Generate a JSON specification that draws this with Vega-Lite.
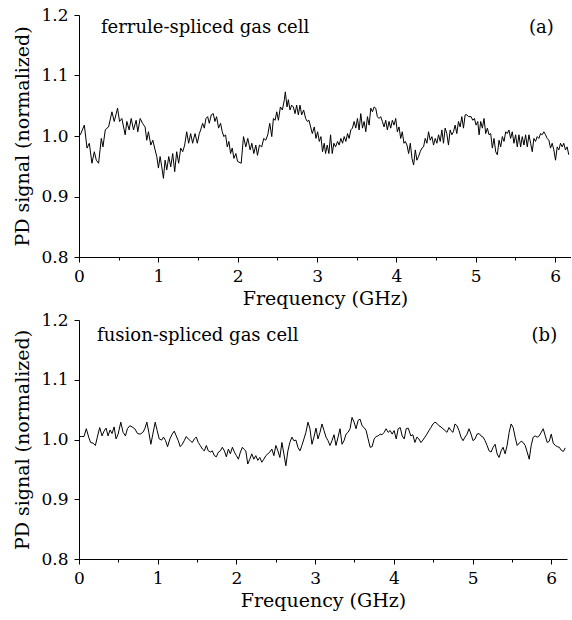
{
"$schema": "https://vega.github.io/schema/vega-lite/v6.json",
"background": "white",
"padding": {"left": 13, "top": 6, "right": 0, "bottom": 2},
"spacing": 3,
"config": {
  "view": {"stroke": null},
  "font": "DejaVu Serif",
  "axis": {"domainColor": "black", "domainWidth": 1, "tickColor": "black", "tickWidth": 1, "labelColor": "black", "titleColor": "black", "labelFont": "DejaVu Serif", "titleFont": "DejaVu Serif", "labelFontSize": 17, "titleFontSize": 19, "titleFontWeight": "normal", "grid": false, "labelOverlap": false, "labelBound": false, "labelFlush": false}
},
"datasets": {
"a": [
{"f":0,"s":1.0},{"f":0.017,"s":1.002},{"f":0.067,"s":1.018},{"f":0.101,"s":0.980},{"f":0.130,"s":0.988},{"f":0.163,"s":0.955},{"f":0.193,"s":0.974},{"f":0.218,"s":0.960},{"f":0.247,"s":0.955},{"f":0.281,"s":0.996},{"f":0.302,"s":0.982},{"f":0.331,"s":1.010},{"f":0.352,"s":1.013},{"f":0.373,"s":1.015},{"f":0.415,"s":1.040},{"f":0.444,"s":1.024},{"f":0.486,"s":1.046},{"f":0.511,"s":1.024},{"f":0.540,"s":1.029},{"f":0.582,"s":1.002},{"f":0.603,"s":1.024},{"f":0.632,"s":1.010},{"f":0.658,"s":1.029},{"f":0.687,"s":1.010},{"f":0.720,"s":1.026},{"f":0.741,"s":1.007},{"f":0.771,"s":1.029},{"f":0.800,"s":1.021},{"f":0.833,"s":1.015},{"f":0.854,"s":0.993},{"f":0.875,"s":1.007},{"f":0.905,"s":0.985},{"f":0.930,"s":0.993},{"f":0.959,"s":0.977},{"f":0.980,"s":0.966},{"f":1.001,"s":0.947},{"f":1.022,"s":0.966},{"f":1.043,"s":0.949},{"f":1.064,"s":0.930},{"f":1.085,"s":0.960},{"f":1.106,"s":0.944},{"f":1.131,"s":0.966},{"f":1.156,"s":0.949},{"f":1.181,"s":0.971},{"f":1.206,"s":0.941},{"f":1.231,"s":0.974},{"f":1.256,"s":0.955},{"f":1.282,"s":0.980},{"f":1.307,"s":0.974},{"f":1.332,"s":0.985},{"f":1.357,"s":1.007},{"f":1.382,"s":0.988},{"f":1.407,"s":1.004},{"f":1.432,"s":0.988},{"f":1.462,"s":1.004},{"f":1.491,"s":0.988},{"f":1.516,"s":1.004},{"f":1.533,"s":1.010},{"f":1.558,"s":1.021},{"f":1.579,"s":1.013},{"f":1.600,"s":1.029},{"f":1.621,"s":1.032},{"f":1.642,"s":1.021},{"f":1.667,"s":1.035},{"f":1.692,"s":1.037},{"f":1.713,"s":1.024},{"f":1.734,"s":1.032},{"f":1.759,"s":1.013},{"f":1.784,"s":1.021},{"f":1.805,"s":1.007},{"f":1.826,"s":0.999},{"f":1.847,"s":1.002},{"f":1.868,"s":0.982},{"f":1.889,"s":0.991},{"f":1.910,"s":0.971},{"f":1.931,"s":0.980},{"f":1.952,"s":0.963},{"f":1.977,"s":0.971},{"f":1.998,"s":0.958},
{"f":2.044,"s":0.955},{"f":2.073,"s":0.999},{"f":2.102,"s":0.982},{"f":2.127,"s":0.996},{"f":2.157,"s":0.977},{"f":2.178,"s":0.988},{"f":2.203,"s":0.971},{"f":2.228,"s":0.985},{"f":2.249,"s":0.968},{"f":2.274,"s":0.985},{"f":2.303,"s":0.982},{"f":2.328,"s":0.996},{"f":2.353,"s":0.993},{"f":2.379,"s":1.002},{"f":2.404,"s":1.021},{"f":2.429,"s":0.999},{"f":2.450,"s":1.029},{"f":2.471,"s":1.026},{"f":2.492,"s":1.040},{"f":2.513,"s":1.026},{"f":2.538,"s":1.048},{"f":2.563,"s":1.043},{"f":2.588,"s":1.060},{"f":2.600,"s":1.073},{"f":2.621,"s":1.048},{"f":2.638,"s":1.060},{"f":2.659,"s":1.043},{"f":2.680,"s":1.051},{"f":2.701,"s":1.048},{"f":2.722,"s":1.037},{"f":2.743,"s":1.051},{"f":2.764,"s":1.035},{"f":2.785,"s":1.051},{"f":2.806,"s":1.035},{"f":2.831,"s":1.043},{"f":2.856,"s":1.029},{"f":2.877,"s":1.024},{"f":2.898,"s":1.026},{"f":2.919,"s":1.015},{"f":2.940,"s":1.004},{"f":2.965,"s":1.015},{"f":2.986,"s":0.996},{"f":3.007,"s":1.007},{"f":3.028,"s":0.991},{"f":3.049,"s":0.999},{"f":3.069,"s":0.974},{"f":3.090,"s":0.988},{"f":3.107,"s":0.971},{"f":3.128,"s":0.985},{"f":3.149,"s":0.971},{"f":3.170,"s":1.002},{"f":3.191,"s":0.971},{"f":3.212,"s":0.988},{"f":3.233,"s":0.982},{"f":3.258,"s":0.991},{"f":3.279,"s":0.985},{"f":3.300,"s":0.996},{"f":3.321,"s":0.988},{"f":3.342,"s":0.999},{"f":3.363,"s":0.991},{"f":3.384,"s":1.004},{"f":3.404,"s":0.996},{"f":3.425,"s":1.010},{"f":3.446,"s":1.013},{"f":3.467,"s":1.024},{"f":3.488,"s":1.013},{"f":3.509,"s":1.029},{"f":3.530,"s":1.010},{"f":3.551,"s":1.037},{"f":3.572,"s":1.013},{"f":3.593,"s":1.024},{"f":3.614,"s":1.007},{"f":3.635,"s":1.032},{"f":3.656,"s":1.018},{"f":3.677,"s":1.046},{"f":3.698,"s":1.040},{"f":3.719,"s":1.048},{"f":3.739,"s":1.046},{"f":3.760,"s":1.032},{"f":3.781,"s":1.029},{"f":3.802,"s":1.032},{"f":3.823,"s":1.024},{"f":3.844,"s":1.015},{"f":3.865,"s":1.026},{"f":3.886,"s":1.010},{"f":3.907,"s":1.024},{"f":3.928,"s":1.013},{"f":3.949,"s":1.026},{"f":3.970,"s":1.018},{"f":3.991,"s":1.029},{"f":4.012,"s":1.007},{"f":4.033,"s":1.015},{"f":4.054,"s":0.996},{"f":4.074,"s":1.007},{"f":4.095,"s":0.988},
{"f":4.112,"s":0.991},{"f":4.133,"s":0.985},{"f":4.154,"s":0.971},{"f":4.175,"s":0.988},{"f":4.196,"s":0.963},{"f":4.217,"s":0.952},{"f":4.238,"s":0.977},{"f":4.258,"s":0.960},{"f":4.279,"s":0.966},{"f":4.300,"s":0.974},{"f":4.321,"s":0.980},{"f":4.342,"s":0.982},{"f":4.363,"s":0.996},{"f":4.384,"s":0.988},{"f":4.405,"s":1.007},{"f":4.426,"s":0.993},{"f":4.447,"s":0.999},{"f":4.468,"s":0.985},{"f":4.489,"s":0.996},{"f":4.510,"s":0.988},{"f":4.531,"s":1.002},{"f":4.552,"s":0.991},{"f":4.573,"s":1.010},{"f":4.593,"s":0.988},{"f":4.614,"s":1.013},{"f":4.635,"s":1.004},{"f":4.656,"s":0.985},{"f":4.677,"s":1.010},{"f":4.698,"s":1.002},{"f":4.719,"s":1.007},{"f":4.740,"s":1.018},{"f":4.761,"s":1.004},{"f":4.782,"s":1.024},{"f":4.803,"s":1.015},{"f":4.824,"s":1.032},{"f":4.845,"s":1.013},{"f":4.866,"s":1.035},{"f":4.887,"s":1.035},{"f":4.908,"s":1.032},{"f":4.941,"s":1.032},{"f":4.962,"s":1.026},{"f":4.983,"s":1.029},{"f":5.004,"s":1.018},{"f":5.025,"s":1.024},{"f":5.042,"s":1.002},{"f":5.062,"s":1.024},{"f":5.083,"s":1.013},{"f":5.104,"s":1.029},{"f":5.125,"s":1.004},{"f":5.146,"s":1.013},{"f":5.167,"s":1.002},{"f":5.188,"s":1.004},{"f":5.209,"s":0.980},{"f":5.230,"s":0.996},{"f":5.251,"s":0.974},{"f":5.272,"s":0.969},{"f":5.293,"s":0.993},{"f":5.314,"s":0.982},{"f":5.335,"s":0.999},{"f":5.356,"s":0.991},{"f":5.377,"s":1.007},{"f":5.397,"s":1.004},{"f":5.418,"s":1.010},{"f":5.439,"s":0.996},{"f":5.460,"s":1.007},{"f":5.481,"s":0.988},{"f":5.502,"s":1.002},{"f":5.523,"s":0.982},{"f":5.544,"s":1.002},{"f":5.565,"s":0.982},{"f":5.586,"s":0.999},{"f":5.607,"s":0.985},{"f":5.628,"s":1.002},{"f":5.649,"s":0.982},{"f":5.670,"s":1.002},{"f":5.691,"s":0.988},{"f":5.712,"s":0.974},{"f":5.732,"s":0.996},{"f":5.753,"s":0.991},{"f":5.774,"s":0.999},{"f":5.795,"s":0.996},{"f":5.816,"s":1.004},{"f":5.837,"s":1.002},{"f":5.858,"s":1.007},{"f":5.879,"s":1.002},{"f":5.900,"s":0.996},{"f":5.921,"s":0.993},{"f":5.942,"s":0.980},{"f":5.963,"s":0.988},{"f":5.984,"s":0.977},{"f":6.005,"s":0.960},{"f":6.026,"s":0.982},{"f":6.047,"s":0.977},{"f":6.068,"s":0.988},{"f":6.089,"s":0.982},{"f":6.109,"s":0.988},{"f":6.130,"s":0.977},{"f":6.151,"s":0.982},{"f":6.172,"s":0.969}
],
"b": [
{"f":0,"s":1.005},{"f":0.030,"s":1.005},{"f":0.063,"s":1.005},{"f":0.093,"s":1.018},{"f":0.123,"s":1.004},{"f":0.148,"s":0.995},{"f":0.178,"s":0.994},{"f":0.208,"s":0.990},{"f":0.233,"s":1.004},{"f":0.263,"s":1.020},{"f":0.293,"s":1.006},{"f":0.318,"s":1.014},{"f":0.344,"s":1.019},{"f":0.369,"s":1.006},{"f":0.395,"s":1.016},{"f":0.420,"s":1.010},{"f":0.446,"s":1.021},{"f":0.471,"s":1.001},{"f":0.497,"s":1.009},{"f":0.531,"s":1.029},{"f":0.560,"s":1.012},{"f":0.590,"s":1.006},{"f":0.615,"s":1.018},{"f":0.645,"s":1.023},{"f":0.675,"s":1.021},{"f":0.709,"s":1.018},{"f":0.743,"s":1.010},{"f":0.777,"s":1.009},{"f":0.811,"s":1.012},{"f":0.836,"s":1.018},{"f":0.862,"s":1.029},{"f":0.887,"s":1.012},{"f":0.913,"s":0.992},{"f":0.938,"s":1.009},{"f":0.968,"s":1.029},{"f":0.993,"s":1.015},{"f":1.019,"s":1.001},{"f":1.049,"s":0.999},{"f":1.074,"s":1.004},{"f":1.100,"s":0.998},{"f":1.125,"s":0.988},{"f":1.155,"s":1.001},{"f":1.184,"s":1.009},{"f":1.210,"s":1.014},{"f":1.235,"s":1.006},{"f":1.261,"s":0.998},{"f":1.286,"s":0.988},{"f":1.312,"s":0.992},{"f":1.337,"s":0.998},{"f":1.363,"s":1.005},{"f":1.388,"s":1.001},{"f":1.414,"s":0.998},{"f":1.439,"s":0.995},{"f":1.465,"s":1.001},{"f":1.490,"s":1.004},{"f":1.516,"s":0.995},{"f":1.541,"s":0.990},{"f":1.567,"s":0.984},{"f":1.592,"s":0.981},{"f":1.618,"s":0.990},{"f":1.643,"s":0.981},{"f":1.669,"s":0.979},{"f":1.694,"s":0.981},{"f":1.720,"s":0.973},{"f":1.745,"s":0.971},{"f":1.771,"s":0.979},{"f":1.796,"s":0.981},{"f":1.821,"s":0.987},{"f":1.847,"s":0.981},{"f":1.872,"s":0.971},{"f":1.898,"s":0.984},{"f":1.923,"s":0.976},{"f":1.949,"s":0.987},{"f":1.974,"s":0.979},{"f":2.000,"s":0.973},{"f":2.025,"s":0.967},{"f":2.051,"s":0.979},{"f":2.076,"s":0.987},
{"f":2.093,"s":0.984},{"f":2.119,"s":0.981},{"f":2.144,"s":0.959},{"f":2.170,"s":0.967},{"f":2.195,"s":0.976},{"f":2.221,"s":0.967},{"f":2.246,"s":0.973},{"f":2.272,"s":0.965},{"f":2.297,"s":0.970},{"f":2.323,"s":0.962},{"f":2.348,"s":0.967},{"f":2.374,"s":0.973},{"f":2.399,"s":0.976},{"f":2.425,"s":0.979},{"f":2.450,"s":0.984},{"f":2.476,"s":0.973},{"f":2.501,"s":0.990},{"f":2.527,"s":0.981},{"f":2.552,"s":0.970},{"f":2.578,"s":0.995},{"f":2.603,"s":0.976},{"f":2.628,"s":0.956},{"f":2.654,"s":0.981},{"f":2.679,"s":0.995},{"f":2.705,"s":1.004},{"f":2.730,"s":0.998},{"f":2.756,"s":0.999},{"f":2.781,"s":0.987},{"f":2.807,"s":0.981},{"f":2.832,"s":0.990},{"f":2.858,"s":1.001},{"f":2.883,"s":1.012},{"f":2.909,"s":1.029},{"f":2.934,"s":1.018},{"f":2.960,"s":0.992},{"f":2.985,"s":1.004},{"f":3.011,"s":1.019},{"f":3.036,"s":1.001},{"f":3.062,"s":1.012},{"f":3.087,"s":1.026},{"f":3.113,"s":1.015},{"f":3.138,"s":1.004},{"f":3.164,"s":0.998},{"f":3.189,"s":0.990},{"f":3.214,"s":0.998},{"f":3.240,"s":1.008},{"f":3.265,"s":0.990},{"f":3.291,"s":1.004},{"f":3.316,"s":1.018},{"f":3.342,"s":0.992},{"f":3.367,"s":0.998},{"f":3.393,"s":1.009},{"f":3.418,"s":1.012},{"f":3.444,"s":1.018},{"f":3.469,"s":1.037},{"f":3.495,"s":1.029},{"f":3.520,"s":1.018},{"f":3.546,"s":1.032},{"f":3.571,"s":1.034},{"f":3.597,"s":1.023},{"f":3.622,"s":1.020},{"f":3.648,"s":1.015},{"f":3.673,"s":1.001},{"f":3.699,"s":0.987},{"f":3.724,"s":0.988},{"f":3.750,"s":1.001},{"f":3.775,"s":1.005},{"f":3.800,"s":1.006},{"f":3.826,"s":1.009},{"f":3.851,"s":1.008},{"f":3.877,"s":1.012},{"f":3.902,"s":1.018},{"f":3.928,"s":1.012},{"f":3.953,"s":1.015},{"f":3.979,"s":1.009},{"f":4.004,"s":1.015},{"f":4.030,"s":1.001},{"f":4.055,"s":1.018},{"f":4.081,"s":1.020},{"f":4.106,"s":1.006},{"f":4.132,"s":1.001},{"f":4.157,"s":1.018},{"f":4.183,"s":1.019},
{"f":4.216,"s":1.006},{"f":4.242,"s":1.008},{"f":4.267,"s":0.995},{"f":4.293,"s":1.004},{"f":4.318,"s":1.001},{"f":4.344,"s":0.995},{"f":4.369,"s":0.999},{"f":4.395,"s":1.004},{"f":4.420,"s":1.009},{"f":4.446,"s":1.015},{"f":4.471,"s":1.020},{"f":4.497,"s":1.026},{"f":4.522,"s":1.029},{"f":4.548,"s":1.027},{"f":4.573,"s":1.023},{"f":4.599,"s":1.021},{"f":4.624,"s":1.018},{"f":4.650,"s":1.015},{"f":4.675,"s":1.012},{"f":4.701,"s":1.020},{"f":4.726,"s":1.015},{"f":4.751,"s":1.012},{"f":4.777,"s":1.026},{"f":4.802,"s":1.023},{"f":4.828,"s":1.015},{"f":4.853,"s":1.004},{"f":4.879,"s":0.998},{"f":4.904,"s":1.004},{"f":4.930,"s":1.009},{"f":4.955,"s":1.018},{"f":4.981,"s":1.009},{"f":5.006,"s":0.998},{"f":5.032,"s":1.001},{"f":5.057,"s":1.009},{"f":5.083,"s":1.010},{"f":5.108,"s":1.006},{"f":5.134,"s":1.004},{"f":5.159,"s":0.998},{"f":5.185,"s":0.990},{"f":5.210,"s":0.981},{"f":5.236,"s":0.979},{"f":5.261,"s":0.987},{"f":5.287,"s":0.992},{"f":5.312,"s":0.976},{"f":5.337,"s":0.970},{"f":5.363,"s":0.981},{"f":5.388,"s":0.987},{"f":5.414,"s":0.976},{"f":5.439,"s":0.990},{"f":5.465,"s":1.012},{"f":5.490,"s":1.026},{"f":5.516,"s":1.020},{"f":5.541,"s":1.004},{"f":5.567,"s":0.990},{"f":5.592,"s":0.994},{"f":5.618,"s":0.997},{"f":5.643,"s":0.995},{"f":5.669,"s":0.990},{"f":5.694,"s":0.979},{"f":5.720,"s":0.967},{"f":5.745,"s":0.990},{"f":5.771,"s":1.004},{"f":5.796,"s":1.006},{"f":5.822,"s":1.004},{"f":5.847,"s":1.006},{"f":5.873,"s":1.012},{"f":5.898,"s":1.018},{"f":5.924,"s":1.006},{"f":5.949,"s":0.995},{"f":5.974,"s":0.997},{"f":6.000,"s":1.009},{"f":6.025,"s":0.994},{"f":6.051,"s":0.990},{"f":6.076,"s":0.988},{"f":6.102,"s":0.987},{"f":6.127,"s":0.982},{"f":6.153,"s":0.980},{"f":6.178,"s":0.986}
],
"la": [{"f":0.276,"s":1.179,"label":"ferrule-spliced gas cell"},{"f":5.67,"s":1.179,"label":"(a)"}],
"lb": [{"f":0.23,"s":1.173,"label":"fusion-spliced gas cell"},{"f":5.75,"s":1.173,"label":"(b)"}]
},
"vconcat": [
{
 "width": 492, "height": 242,
 "layer": [
  {"data": {"name": "a"}, "mark": {"type": "line", "color": "black", "strokeWidth": 1},
   "encoding": {
    "x": {"field": "f", "type": "quantitative", "scale": {"domain": [0, 6.2], "nice": false, "zero": false},
      "axis": {"title": "Frequency (GHz)", "values": [0,0.5,1,1.5,2,2.5,3,3.5,4,4.5,5,5.5,6], "labelExpr": "datum.value % 1 == 0 ? format(datum.value, 'd') : ''", "tickSize": {"condition": {"test": "datum.value % 1 != 0", "value": 3}, "value": 5}, "labelPadding": 6, "titlePadding": 5}},
    "y": {"field": "s", "type": "quantitative", "scale": {"domain": [0.8, 1.2], "nice": false, "zero": false},
      "axis": {"title": "PD signal (normalized)", "values": [0.8,0.85,0.9,0.95,1.0,1.05,1.1,1.15,1.2], "labelExpr": "abs(datum.value*10 - round(datum.value*10)) > 0.01 ? '' : format(datum.value, '.1f')", "tickSize": {"condition": {"test": "abs(datum.value*10 - round(datum.value*10)) > 0.01", "value": 3}, "value": 5}, "labelPadding": 6, "titlePadding": 8}}
   }},
  {"data": {"name": "la"}, "mark": {"type": "text", "align": "left", "baseline": "middle", "fontSize": 18, "font": "DejaVu Serif", "color": "black"},
   "encoding": {
    "x": {"field": "f", "type": "quantitative", "title": "Frequency (GHz)"},
    "y": {"field": "s", "type": "quantitative", "title": "PD signal (normalized)"},
    "text": {"field": "label"}
   }}
 ]
},
{
 "width": 488, "height": 239,
 "layer": [
  {"data": {"name": "b"}, "mark": {"type": "line", "color": "black", "strokeWidth": 1},
   "encoding": {
    "x": {"field": "f", "type": "quantitative", "scale": {"domain": [0, 6.2], "nice": false, "zero": false},
      "axis": {"title": "Frequency (GHz)", "values": [0,0.5,1,1.5,2,2.5,3,3.5,4,4.5,5,5.5,6], "labelExpr": "datum.value % 1 == 0 ? format(datum.value, 'd') : ''", "tickSize": {"condition": {"test": "datum.value % 1 != 0", "value": 3}, "value": 5}, "labelPadding": 6, "titlePadding": 5}},
    "y": {"field": "s", "type": "quantitative", "scale": {"domain": [0.8, 1.2], "nice": false, "zero": false},
      "axis": {"title": "PD signal (normalized)", "values": [0.8,0.85,0.9,0.95,1.0,1.05,1.1,1.15,1.2], "labelExpr": "abs(datum.value*10 - round(datum.value*10)) > 0.01 ? '' : format(datum.value, '.1f')", "tickSize": {"condition": {"test": "abs(datum.value*10 - round(datum.value*10)) > 0.01", "value": 3}, "value": 5}, "labelPadding": 6, "titlePadding": 8}}
   }},
  {"data": {"name": "lb"}, "mark": {"type": "text", "align": "left", "baseline": "middle", "fontSize": 18, "font": "DejaVu Serif", "color": "black"},
   "encoding": {
    "x": {"field": "f", "type": "quantitative", "title": "Frequency (GHz)"},
    "y": {"field": "s", "type": "quantitative", "title": "PD signal (normalized)"},
    "text": {"field": "label"}
   }}
 ]
}
]
}
